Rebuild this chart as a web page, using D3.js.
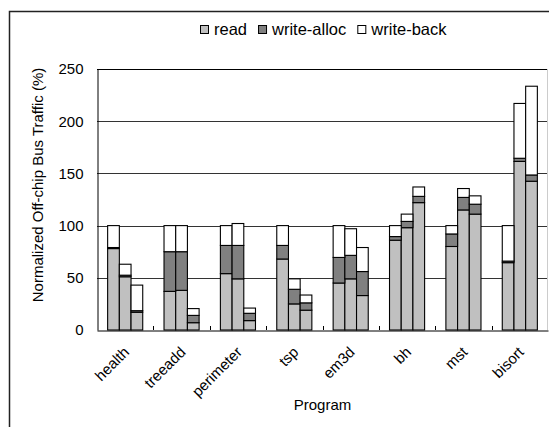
<!DOCTYPE html>
<html>
<head>
<meta charset="utf-8">
<script src="https://cdn.jsdelivr.net/npm/d3@7"></script>
<style>
  body { margin: 0; background: #fff; }
  svg { display: block; font-family: 'Liberation Sans', Arial, sans-serif; }
</style>
</head>
<body>
<svg id="chart" width="549" height="427"></svg>
<script>
// three runs per program, stacked read / write-alloc / write-back (% of baseline)
const programs = ['health', 'treeadd', 'perimeter', 'tsp', 'em3d', 'bh', 'mst', 'bisort'];
const runs = [0, 1, 2];
const seriesNames = ['read', 'write-alloc', 'write-back'];
const seriesColors = ['#c0c0c0', '#808080', '#ffffff'];

const readVals = [[78, 51, 17], [37, 38, 7], [54, 49, 9], [68, 25, 19], [45, 49, 33], [86, 98, 122], [80, 115, 111], [64.5, 161.5, 142.5]];
const writeAllocVals = [[1, 1.5, 1.5], [38, 37, 7], [27, 32, 7], [13, 14, 7], [24.5, 22.5, 23], [3.5, 6, 6], [12, 12, 9.5], [1.5, 3, 6]];
const writeBackVals = [[21, 10.5, 24.5], [25, 25, 6.5], [19, 21, 5], [19, 10, 7.5], [30.5, 25.5, 23], [10.5, 7, 9], [8, 8.5, 8], [34, 52.5, 85]];
const yTicks = [0, 50, 100, 150, 200, 250];

const rows = [];
programs.forEach((p, i) => {
  runs.forEach(r => {
    rows.push({
      program: p,
      run: r,
      'read': readVals[i][r],
      'write-alloc': writeAllocVals[i][r],
      'write-back': writeBackVals[i][r],
    });
  });
});

const svg = d3.select('#chart');
const plotLeft = 97, plotRight = 548, plotTop = 69, plotBottom = 330;

// outer frame
svg.append('rect')
  .attr('x', 9.5).attr('y', 11.5)
  .attr('width', 600).attr('height', 500)
  .attr('fill', 'none')
  .attr('stroke', '#222')
  .attr('stroke-width', 1.5);

const x0 = d3.scaleBand().domain(programs).range([plotLeft, plotRight]);
const x1 = d3.scaleBand().domain(runs).range([0, x0.bandwidth()]).paddingInner(0).paddingOuter(0.91);
const y = d3.scaleLinear().domain([0, 250]).range([plotBottom, plotTop]);

// gridlines
svg.append('g')
  .selectAll('line')
  .data(yTicks.slice(1, -1))
  .join('line')
  .attr('x1', plotLeft).attr('x2', plotRight)
  .attr('y1', d => Math.round(y(d)) + 0.5).attr('y2', d => Math.round(y(d)) + 0.5)
  .attr('stroke', '#333');

// plot box
svg.append('line').attr('x1', plotLeft).attr('x2', plotRight).attr('y1', plotTop + 0.5).attr('y2', plotTop + 0.5).attr('stroke', '#000');
svg.append('line').attr('x1', plotRight - 0.5).attr('x2', plotRight - 0.5).attr('y1', plotTop).attr('y2', plotBottom).attr('stroke', '#ccc');

const stack = d3.stack().keys(seriesNames);
const layers = stack(rows);

svg.append('g')
  .selectAll('g')
  .data(layers)
  .join('g')
  .attr('fill', (d, i) => seriesColors[i])
  .selectAll('rect')
  .data(d => d)
  .join('rect')
  .attr('x', d => x0(d.data.program) + x1(d.data.run))
  .attr('width', x1.bandwidth())
  .attr('y', d => y(d[1]))
  .attr('height', d => y(d[0]) - y(d[1]))
  .attr('stroke', '#000')
  .attr('stroke-width', 1.1);

// y axis
const yAxis = svg.append('g')
  .attr('transform', `translate(${plotLeft + 0.5},0)`)
  .call(d3.axisLeft(y).tickValues(yTicks).tickSize(0).tickPadding(14));
yAxis.select('.domain').attr('stroke', '#000');
yAxis.selectAll('text').attr('font-size', 15).attr('fill', '#000').attr('font-family', null);

// x axis
const xAxis = svg.append('g')
  .attr('transform', `translate(0,${plotBottom + 0.5})`)
  .call(d3.axisBottom(x0).tickSize(0).tickFormat(''));
xAxis.select('.domain').attr('stroke', '#000');

svg.append('g')
  .selectAll('line')
  .data(programs.slice(1))
  .join('line')
  .attr('x1', d => Math.round(x0(d)) + 0.5).attr('x2', d => Math.round(x0(d)) + 0.5)
  .attr('y1', plotBottom).attr('y2', plotBottom - 4)
  .attr('stroke', '#000');

svg.append('g')
  .selectAll('text')
  .data(programs)
  .join('text')
  .attr('transform', d => `translate(${x0(d) + x0.bandwidth() / 2 + 5},${plotBottom + 23}) rotate(-45)`)
  .attr('text-anchor', 'end')
  .attr('font-size', 15)
  .text(d => d);

// axis titles
svg.append('text')
  .attr('x', (plotLeft + plotRight) / 2)
  .attr('y', 410)
  .attr('text-anchor', 'middle')
  .attr('font-size', 15)
  .text('Program');

svg.append('text')
  .attr('transform', 'translate(43,185) rotate(-90)')
  .attr('text-anchor', 'middle')
  .attr('font-size', 15)
  .text('Normalized Off-chip Bus Traffic (%)');

// legend
const legend = svg.append('g').attr('transform', 'translate(200,25)');
let lx = 0;
seriesNames.forEach((name, i) => {
  legend.append('rect')
    .attr('x', lx + 0.5).attr('y', 0.5)
    .attr('width', 8).attr('height', 8)
    .attr('fill', seriesColors[i])
    .attr('stroke', '#000');
  const t = legend.append('text')
    .attr('x', lx + 14).attr('y', 9.5)
    .attr('font-size', 16.5)
    .text(name);
  lx += 14 + t.node().getComputedTextLength() + 11;
});
</script>
</body>
</html>
